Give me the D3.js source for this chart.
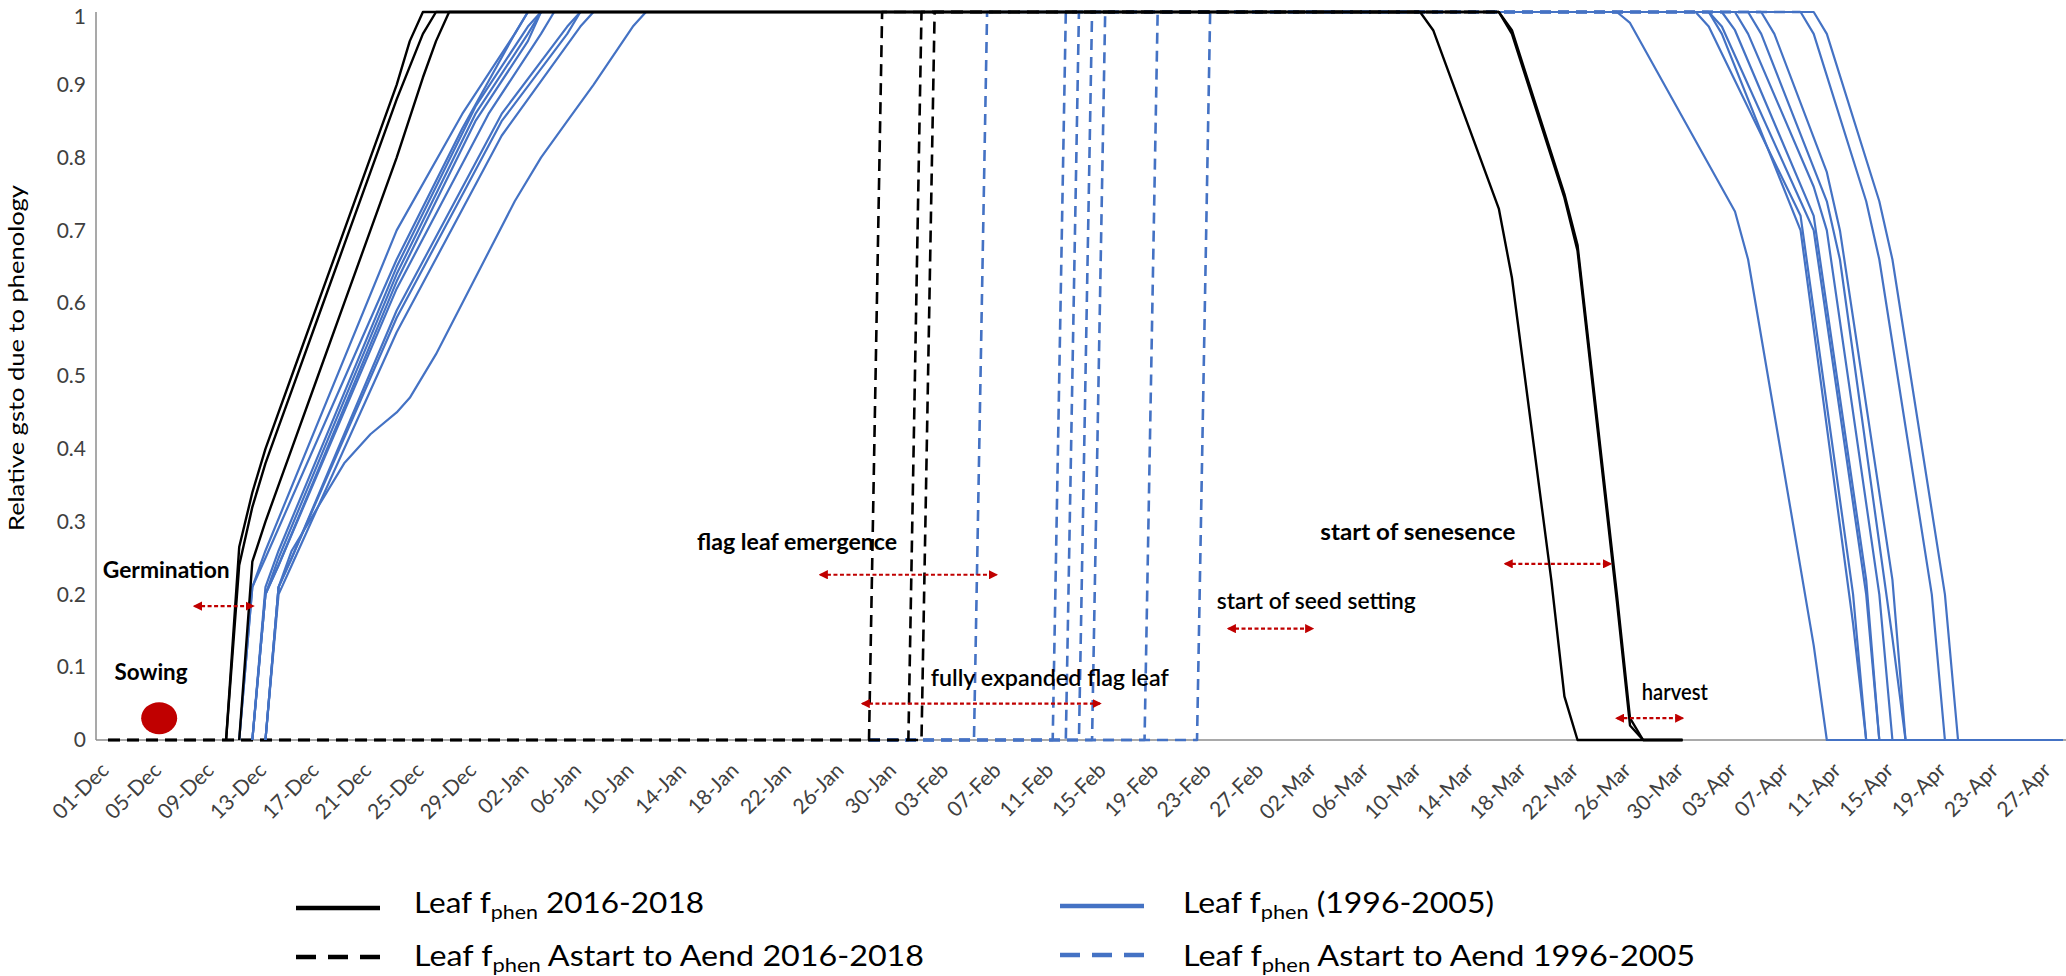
<!DOCTYPE html>
<html><head><meta charset="utf-8">
<script src="https://cdn.jsdelivr.net/npm/d3@7/dist/d3.min.js"></script>
<style>body{margin:0;background:#fff}svg{display:block}</style>
</head><body>
<svg id="chart" width="2066" height="976"></svg>
<script>
// ---------- DATA ----------
const tickLabels = ["01-Dec","05-Dec","09-Dec","13-Dec","17-Dec","21-Dec","25-Dec","29-Dec","02-Jan","06-Jan","10-Jan","14-Jan","18-Jan","22-Jan","26-Jan","30-Jan","03-Feb","07-Feb","11-Feb","15-Feb","19-Feb","23-Feb","27-Feb","02-Mar","06-Mar","10-Mar","14-Mar","18-Mar","22-Mar","26-Mar","30-Mar","03-Apr","07-Apr","11-Apr","15-Apr","19-Apr","23-Apr","27-Apr"];
const dayCount = 150;          // daily categories 01-Dec .. 28-Apr
const tickStep = 4;
const yTicks = [0,0.1,0.2,0.3,0.4,0.5,0.6,0.7,0.8,0.9,1];

// Leaf fphen 2016-2018  ([day index, value])
const black2016 = [
  [[9,0],[10,0.265],[11,0.34],[12,0.40],[13,0.45],[14,0.50],[16,0.60],[18,0.70],[20,0.80],[22,0.90],[23,0.96],[24,1],[100,1],[101,0.975],[106,0.73],[107,0.635],[110,0.22],[111,0.06],[112,0],[120,0]],
  [[9,0],[10,0.24],[11,0.32],[12,0.38],[13,0.43],[14,0.48],[16,0.58],[18,0.68],[20,0.78],[22,0.88],[24,0.97],[25,1],[106,1],[107,0.975],[111,0.75],[112,0.68],[115,0.2],[116,0.03],[117,0],[120,0]],
  [[10,0],[11,0.245],[12,0.30],[13,0.35],[14,0.40],[16,0.50],[18,0.60],[20,0.70],[22,0.80],[24,0.91],[25,0.96],[26,1],[106,1],[107,0.97],[111,0.745],[112,0.672],[115,0.19],[116,0.02],[117,0],[120,0]]
];
// Leaf fphen (1996-2005)
const blue1996 = [
  [[10,0],[11,0.21],[12,0.26],[22,0.70],[27,0.86],[31,0.97],[32,1],[115,1],[116,0.985],[124,0.726],[125,0.66],[130,0.13],[131,0],[149,0]],
  [[10,0],[11,0.21],[12,0.25],[22,0.66],[27,0.84],[31,0.97],[32,1],[121,1],[122,0.98],[129,0.72],[133,0.2],[134,0],[149,0]],
  [[11,0],[12,0.21],[13,0.26],[22,0.65],[28,0.87],[32,0.98],[33,1],[122,1],[123,0.98],[129,0.74],[130,0.7],[134,0.2],[135,0],[149,0]],
  [[11,0],[12,0.2],[13,0.25],[22,0.64],[28,0.86],[32,0.97],[33,1],[123,1],[124,0.975],[130,0.72],[134,0.22],[135,0],[149,0]],
  [[11,0],[12,0.2],[13,0.24],[22,0.63],[28,0.85],[32,0.96],[33,1],[122,1],[123,0.97],[129,0.7],[133,0.16],[134,0],[149,0]],
  [[11,0],[12,0.2],[13,0.24],[22,0.62],[29,0.86],[33,0.97],[34,1],[124,1],[125,0.97],[130,0.76],[131,0.7],[135,0.2],[136,0],[149,0]],
  [[12,0],[13,0.21],[14,0.25],[22,0.59],[30,0.86],[35,0.98],[36,1],[125,1],[126,0.97],[131,0.74],[132,0.66],[136,0.14],[137,0],[149,0]],
  [[12,0],[13,0.21],[14,0.25],[22,0.58],[30,0.85],[35,0.97],[36,1],[126,1],[127,0.97],[131,0.78],[132,0.7],[136,0.22],[137,0],[149,0]],
  [[12,0],[13,0.2],[14,0.24],[22,0.56],[30,0.83],[36,0.98],[37,1],[129,1],[130,0.97],[134,0.74],[135,0.66],[139,0.2],[140,0],[149,0]],
  [[12,0],[13,0.21],[14,0.26],[16,0.32],[18,0.38],[20,0.42],[22,0.45],[23,0.47],[25,0.53],[27,0.6],[29,0.67],[31,0.74],[33,0.8],[35,0.85],[37,0.9],[40,0.98],[41,1],[130,1],[131,0.97],[135,0.74],[136,0.66],[140,0.2],[141,0],[149,0]]
];
// Leaf fphen Astart to Aend 2016-2018
const blackAstart2016 = [
  [[0,0],[58,0],[59,1],[100,1]],
  [[0,0],[61,0],[62,1],[106,1]],
  [[0,0],[62,0],[63,1],[106,1]]
];
// Leaf fphen Astart to Aend 1996-2005
const blueAstart1996 = [
  [[58,0],[66,0],[67,1],[115,1]],
  [[58,0],[72,0],[73,1],[121,1]],
  [[58,0],[73,0],[74,1],[122,1]],
  [[58,0],[74,0],[75,1],[123,1]],
  [[58,0],[75,0],[76,1],[124,1]],
  [[58,0],[79,0],[80,1],[126,1]],
  [[58,0],[83,0],[84,1],[129,1]]
];
// phenology annotations
const noteTexts  = ["Sowing","Germination","flag leaf emergence","fully expanded flag leaf","start of seed setting","start of senesence","harvest"];
const noteDays   = [0.5,-0.4,44.9,62.7,84.5,92.4,116.9];
const noteValues = [0.094,0.234,0.272,0.086,0.191,0.286,0.066];
const arrowFrom  = [6.6,54.3,57.5,85.4,106.5,115];
const arrowTo    = [11.05,67.7,75.6,91.8,114.5,120];
const arrowValue = [0.184,0.227,0.05,0.153,0.242,0.03];
const sowingDay = 3.9, sowingValue = 0.03;

// ---------- STYLE ----------
const BLUE = "#4472C4", RED = "#C00000";
const FONT = "Lato, 'Open Sans', sans-serif";
const noteWeight = [700,700,700,600,600,700,600];
const noteWidth  = [73,127,200,238,199,195,66];

const svg = d3.select("#chart");
const x = d3.scaleLinear().domain([0, dayCount-1]).range([108, 2063]);
const y = d3.scaleLinear().domain([0, 1]).range([740, 12]);
const line = d3.line().x(d => x(d[0])).y(d => y(d[1]));

// axis lines
svg.append("line").attr("x1",96).attr("x2",2066).attr("y1",y(0)).attr("y2",y(0)).attr("stroke","#8c8c8c").attr("stroke-width",1.5);
svg.append("line").attr("x1",96).attr("x2",96).attr("y1",y(1)).attr("y2",y(0)).attr("stroke","#8c8c8c").attr("stroke-width",1.5);

// y axis
const ya = svg.append("g").attr("transform","translate(96,0)")
  .call(d3.axisLeft(y).tickValues(yTicks).tickSize(0).tickPadding(10).tickFormat(d3.format("")));
ya.select(".domain").remove();
ya.selectAll("text").attr("font-family",FONT).attr("font-size",21).attr("fill","#404040")
  .attr("y", d => d === 1 ? 5 : 0);

// x axis
const tickDays = tickLabels.map((_, i) => i * tickStep);
const xa = svg.append("g").attr("transform",`translate(0,${y(0)})`)
  .call(d3.axisBottom(x).tickValues(tickDays).tickSize(0).tickFormat((d,i) => tickLabels[i]));
xa.select(".domain").remove();
xa.selectAll("text")
  .attr("font-family",FONT).attr("font-size",21).attr("fill","#404040")
  .attr("text-anchor","end").attr("x",0).attr("y",0).attr("dy","0.72em")
  .attr("transform","translate(-9,21) rotate(-45)");

// y title
svg.append("text").attr("transform",`translate(24,${(y(0)+y(1))/2 - 18}) rotate(-90)`)
  .attr("text-anchor","middle").attr("font-family",FONT)
  .attr("font-size",22).attr("fill","#000").attr("textLength",346).attr("lengthAdjust","spacingAndGlyphs")
  .text("Relative gsto due to phenology");

// series (draw order: dashed first, then blue solid, then black solid)
const plot = svg.append("g").attr("fill","none").attr("stroke-linejoin","round");
plot.selectAll(".bd").data(blueAstart1996).join("path").attr("d", line)
  .attr("stroke", BLUE).attr("stroke-width",2.6).attr("stroke-dasharray","11 7");
plot.selectAll(".kd").data(blackAstart2016).join("path").attr("d", line)
  .attr("stroke","#000").attr("stroke-width",2.6).attr("stroke-dasharray","12 7");
plot.selectAll(".bs").data(blue1996).join("path").attr("d", line)
  .attr("stroke", BLUE).attr("stroke-width",2.2);
plot.selectAll(".ks").data(black2016).join("path").attr("d", line)
  .attr("stroke","#000").attr("stroke-width",2.4);

// annotations
svg.append("defs").html(`<marker id="ah" viewBox="0 0 10 10" refX="8" refY="5" markerWidth="4.2" markerHeight="4.2" orient="auto-start-reverse"><path d="M0,0 L10,5 L0,10 z" fill="${RED}"/></marker>`);
svg.append("g").selectAll("line").data(arrowFrom).join("line")
  .attr("x1",(d)=>x(d)).attr("x2",(d,i)=>x(arrowTo[i]))
  .attr("y1",(d,i)=>y(arrowValue[i])).attr("y2",(d,i)=>y(arrowValue[i]))
  .attr("stroke",RED).attr("stroke-width",2.2).attr("stroke-dasharray","4 2.5")
  .attr("marker-start","url(#ah)").attr("marker-end","url(#ah)");
svg.append("ellipse").attr("cx",x(sowingDay)).attr("cy",y(sowingValue)).attr("rx",18).attr("ry",16).attr("fill",RED);
svg.append("g").selectAll("text").data(noteTexts).join("text")
  .attr("x",(d,i)=>x(noteDays[i])).attr("y",(d,i)=>y(noteValues[i]))
  .attr("dominant-baseline","central")
  .attr("font-family",FONT).attr("font-size",22)
  .attr("font-weight",(d,i)=>noteWeight[i]).attr("fill","#000")
  .attr("textLength",(d,i)=>noteWidth[i]).attr("lengthAdjust","spacingAndGlyphs")
  .text(d=>d);

// legend
const legendItems = [
  {label:" 2016-2018", color:"#000", dash:null, lx:296, tx:414, ly:908, ty:913, w:290},
  {label:" (1996-2005)", color:BLUE, dash:null, lx:1060, tx:1183, ly:906, ty:913, w:311},
  {label:" Astart to Aend 2016-2018", color:"#000", dash:"20 12", lx:296, tx:414, ly:957, ty:966, w:510},
  {label:" Astart to Aend 1996-2005", color:BLUE, dash:"20 12", lx:1060, tx:1183, ly:955, ty:966, w:512}
];
const lg = svg.append("g");
legendItems.forEach(it => {
  lg.append("line").attr("x1",it.lx).attr("x2",it.lx+84).attr("y1",it.ly).attr("y2",it.ly)
    .attr("stroke",it.color).attr("stroke-width",4.5).attr("stroke-dasharray",it.dash);
  const t = lg.append("text").attr("x",it.tx).attr("y",it.ty)
    .attr("font-family",FONT).attr("font-size",28).attr("fill","#000")
    .attr("textLength",it.w).attr("lengthAdjust","spacingAndGlyphs");
  t.append("tspan").text("Leaf f");
  t.append("tspan").attr("font-size",19).attr("dy",6).text("phen");
  t.append("tspan").attr("dy",-6).text(it.label);
});
</script>
</body></html>
